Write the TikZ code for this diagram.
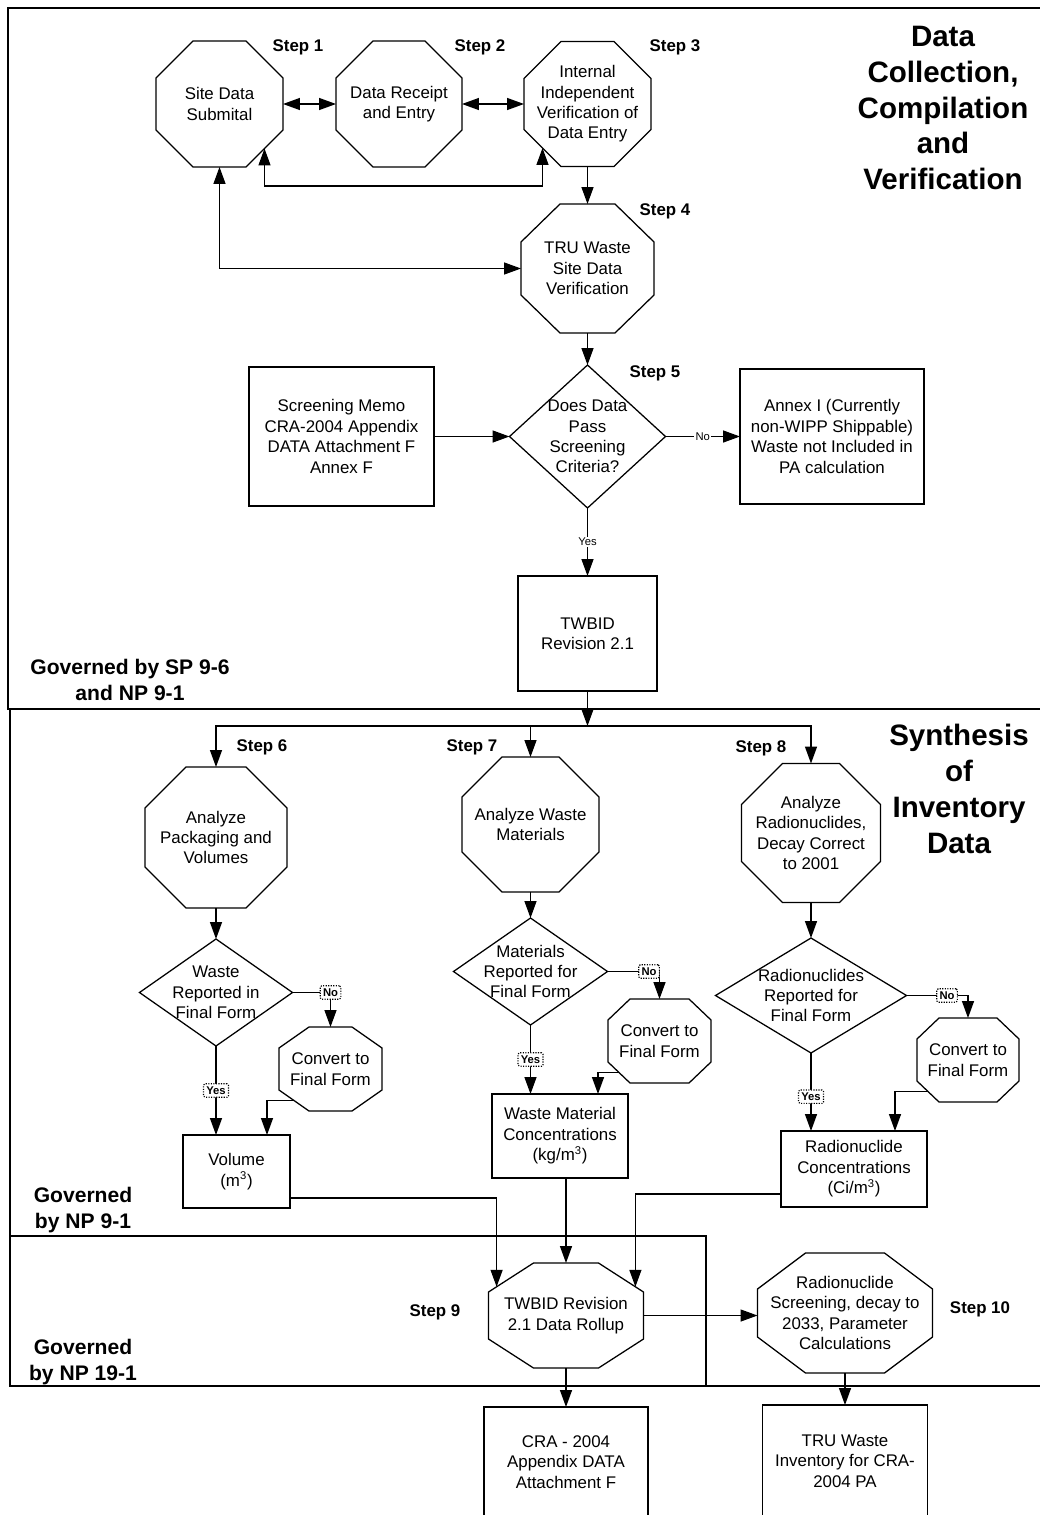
\documentclass[tikz,border=0pt]{standalone}
\usepackage{fontspec}
\setmainfont{Liberation Sans}
\usetikzlibrary{calc,arrows.meta,shapes.geometric}
\tikzset{
  >={Triangle[length=12pt,width=8.5pt]},
  conn/.style={line width=0.9pt},
  frame/.style={line width=1pt},
  sz/.style 2 args={minimum width=#1*0.025cm, minimum height=#2*0.025cm},
  oct/.style={align=center, inner sep=0pt, outer sep=0pt, font=\fontsize{12}{14.5}\selectfont},
  box/.style={draw, line width=0.9pt, align=center, inner sep=0pt, outer sep=0pt, font=\fontsize{12}{14.5}\selectfont},
  decision/.style={diamond, draw, line width=0.9pt, inner sep=0pt, outer sep=0pt},
  txt/.style={align=center, inner sep=0pt, font=\fontsize{12}{14.5}\selectfont},
  steplabel/.style={font=\bfseries\fontsize{12}{14}\selectfont},
  region/.style={align=center, font=\bfseries\fontsize{21}{25.5}\selectfont},
  governed/.style={align=center, font=\bfseries\fontsize{15}{18}\selectfont},
  yesno/.style={draw, densely dotted, thick, rounded corners=1pt, fill=white, inner sep=2pt, font=\bfseries\fontsize{8}{9}\selectfont},
  plainyn/.style={fill=white, inner sep=1pt, font=\fontsize{8}{9}\selectfont},
}
\def\octagon(#1)(#2:#3){\draw[line width=0.9pt] ($(#1.north west)+(#2,0)$) coordinate (#1-nnw) -- ($(#1.north east)+(-#2,0)$) coordinate (#1-nne) -- ($(#1.north east)+(0,-#3)$) coordinate (#1-ene) -- ($(#1.south east)+(0,#3)$) coordinate (#1-ese) -- ($(#1.south east)+(-#2,0)$) coordinate (#1-sse) -- ($(#1.south west)+(#2,0)$) coordinate (#1-ssw) -- ($(#1.south west)+(0,#3)$) coordinate (#1-wsw) -- ($(#1.north west)+(0,-#3)$) coordinate (#1-wnw) -- cycle;}

\begin{document}
\begin{tikzpicture}[x=0.025cm, y=0.025cm]
		%%%%% START %%%%%
		\useasboundingbox (0,0) rectangle (1040,-1515);
		
		% frames
		\draw[frame] (1050,-8) -- (8,-8) -- (8,-709) -- (1050,-709);
		\draw[frame] (10,-709) -- (10,-1386) -- (1050,-1386);
		\draw[frame] (10,-1236) -- (706,-1236) -- (706,-1386);
		
		\node[governed] (g1) at (130,-680) {Governed by SP 9-6\\and NP 9-1};
		\node[governed] (g2) at (83,-1210) {Governed\\by NP 9-1};
		\node[governed] (g3) at (83,-1362) {Governed\\by NP 19-1};
		
		\node[region] (t1) at (943,-108) {Data\\Collection,\\Compilation\\and\\Verification};
		\node[region] (t2) at (959,-789) {Synthesis\\of\\Inventory\\Data};
		
		% steps 1 - 5
		\node[oct, sz={127}{126}] (n1) at (219.5,-104) {Site Data\\Submital};
		\node[oct, sz={126}{126}] (n2) at (399,-104) {Data Receipt\\and Entry};
		\node[oct, sz={127}{125}] (n3) at (587.5,-104) {Internal\\Independent\\Verification of\\Data Entry};
		\node[oct, sz={133}{129}] (n4) at (587.5,-268.5) {TRU Waste\\Site Data\\Verification};
		\octagon(n1)(37:37)
		\octagon(n2)(37:37)
		\octagon(n3)(37:37)
		\octagon(n4)(39:38)
		
		\node[steplabel] (s1) at (298,-47) {Step 1};
		\node[steplabel] (s2) at (480,-47) {Step 2};
		\node[steplabel] (s3) at (675,-47) {Step 3};
		\node[steplabel] (s4) at (665,-211) {Step 4};
		\node[steplabel] (s5) at (655,-373) {Step 5};
		
		\node[decision, sz={156}{143}] (d5) at (587.5,-436.5) {};
		\node[txt] (d5t) at (d5) {Does Data\\Pass\\Screening\\Criteria?};
		\node[box, sz={185}{139}] (memo) at (341.5,-436.5) {Screening Memo\\CRA-2004 Appendix\\DATA Attachment F\\Annex F};
		\node[box, sz={184}{135}] (annex) at (832,-436.5) {Annex I (Currently\\non-WIPP Shippable)\\Waste not Included in\\PA calculation};
		\node[box, sz={139}{115}] (twbid) at (587.5,-633.5) {TWBID\\Revision 2.1};
		
		\coordinate (n1-se) at ($(n1-ese)!0.5!(n1-sse)$);
		\coordinate (n3-sw) at ($(n3-ssw)!0.5!(n3-wsw)$);
		\draw[conn,<->] (n1.east) -- (n2.west);
		\draw[conn,<->] (n2.east) -- (n3.west);
		\draw[conn,<->] (n1-se) -- ++(0,-37.5) -| (n3-sw);
		\draw[conn,->] (n3.south) -- (n4.north);
		\draw[conn,<->] (n1.south) |- (n4.west);
		\draw[conn,->] (n4.south) -- (d5.north);
		\draw[conn,->] (memo.east) -- (d5.west);
		\draw[conn,->] (d5.east) -- node[plainyn] {No} (annex.west);
		\draw[conn,->] (d5.south) -- node[plainyn] {Yes} (twbid.north);
		
		% steps 6 - 8
		\node[oct, sz={142}{141}] (n6) at (216,-837.5) {Analyze\\Packaging and\\Volumes};
		\node[oct, sz={137}{135}] (n7) at (530.5,-824.5) {Analyze Waste\\Materials};
		\node[oct, sz={139}{139}] (n8) at (811,-833) {Analyze\\Radionuclides,\\Decay Correct\\to 2001};
		\octagon(n6)(41:41)
		\octagon(n7)(40:40)
		\octagon(n8)(41:41)
		
		\node[steplabel] (s6) at (262,-747) {Step 6};
		\node[steplabel] (s7) at (472,-747) {Step 7};
		\node[steplabel] (s8) at (761,-748) {Step 8};
		
		\coordinate (split) at (587.5,-726);
		\draw[conn,->] (twbid.south) -- (split);
		\draw[conn,->] (split) -| (n6.north);
		\draw[conn,->] (split) -| (n7.north);
		\draw[conn,->] (split) -| (n8.north);
		
		\node[decision, sz={153}{107}] (d6) at (216,-992.5) {};
		\node[txt] (d6t) at (d6) {Waste\\Reported in\\Final Form};
		\node[decision, sz={154}{107}] (d7) at (530.5,-971.5) {};
		\node[txt] (d7t) at (d7) {Materials\\Reported for\\Final Form};
		\node[decision, sz={191}{115}] (d8) at (811,-995.5) {};
		\node[txt] (d8t) at (d8) {Radionuclides\\Reported for\\Final Form};
		
		\node[oct, sz={103}{84}] (c6) at (330.5,-1069) {Convert to\\Final Form};
		\node[oct, sz={103}{84}] (c7) at (659.5,-1041) {Convert to\\Final Form};
		\node[oct, sz={102}{84}] (c8) at (968,-1060) {Convert to\\Final Form};
		\octagon(c6)(30:21)
		\octagon(c7)(22:21)
		\octagon(c8)(22:21)
		
		\node[box, sz={107}{73}] (vol) at (236.5,-1171.5) {Volume\\(m\textsuperscript{3})};
		\node[box, sz={136}{84}] (wm) at (560,-1136) {Waste Material\\Concentrations\\(kg/m\textsuperscript{3})};
		\node[box, sz={146}{76}] (rc) at (854,-1169) {Radionuclide\\Concentrations\\(Ci/m\textsuperscript{3})};
		
		\draw[conn,->] (n6.south) -- (d6.north);
		\draw[conn,->] (n7.south) -- (d7.north);
		\draw[conn,->] (n8.south) -- (d8.north);
		\draw[conn,->] (d6.east) -| node[yesno, pos=0.5] {No} (c6.north);
		\draw[conn,->] (d7.east) -| node[yesno, pos=0.4] {No} (c7.north);
		\draw[conn,->] (d8.east) -| node[yesno, pos=0.33] {No} (c8.north);
		\draw[conn,->] (d6.south) -- node[yesno] {Yes} (d6.south |- vol.north);
		\draw[conn,->] (d7.south) -- node[yesno] {Yes} (d7.south |- wm.north);
		\draw[conn,->] (d8.south) -- node[yesno, pos=0.56] {Yes} (d8.south |- rc.north);
		
		\coordinate (c6-sw) at ($(c6-ssw)!0.5!(c6-wsw)$);
		\coordinate (c7-sw) at ($(c7-ssw)!0.5!(c7-wsw)$);
		\coordinate (c8-sw) at ($(c8-ssw)!0.5!(c8-wsw)$);
		\draw[conn,->] (c6-sw) -| ($(vol.north)+(30.5,0)$);
		\draw[conn,->] (c7-sw) -| ($(wm.north)+(38,0)$);
		\draw[conn,->] (c8-sw) -| ($(rc.north)+(41,0)$);
		
		% steps 9 - 10
		\node[oct, sz={155}{105}] (n9) at (566,-1315.5) {TWBID Revision\\2.1 Data Rollup};
		\node[oct, sz={175}{120}] (n10) at (845,-1313) {Radionuclide\\Screening, decay to\\2033, Parameter\\Calculations};
		\octagon(n9)(45:29)
		\octagon(n10)(48:36)
		\node[steplabel] (s9) at (435,-1312) {Step 9};
		\node[steplabel] (s10) at (980,-1309) {Step 10};
		
		\node[box, sz={164}{110}] (cra) at (566,-1462) {CRA - 2004\\Appendix DATA\\Attachment F};
		\node[box, sz={165}{112}] (tru) at (845,-1461) {TRU Waste\\Inventory for CRA-\\2004 PA};
		
		\coordinate (n9-nw) at ($(n9-wnw)!0.18!(n9-nnw)$);
		\coordinate (n9-ne) at ($(n9-ene)!0.18!(n9-nne)$);
		\draw[conn,->] ($(vol.south east)+(0,10)$) -| (n9-nw);
		\draw[conn,->] (n9.north |- wm.south) -- (n9.north);
		\draw[conn,->] ($(rc.south west)+(0,13)$) -| (n9-ne);
		\draw[conn,->] (n9.east) -- (n9.east -| n10.west);
		\draw[conn,->] (n9.south) -- (cra.north);
		\draw[conn,->] (n10.south) -- (tru.north);
		
		%%%%% END %%%%%
\end{tikzpicture}
\end{document}
